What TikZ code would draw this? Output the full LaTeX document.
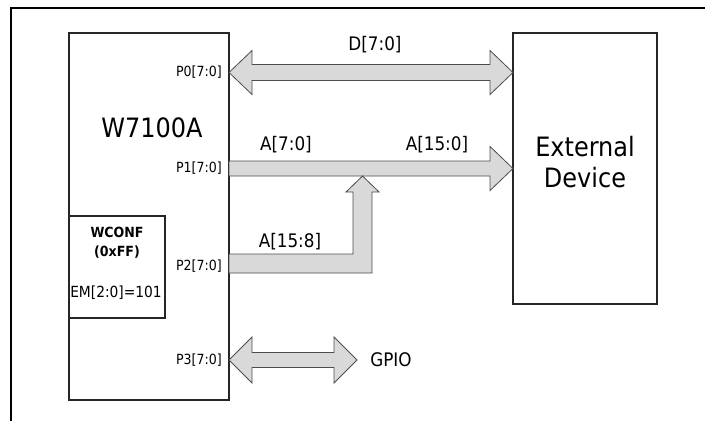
\documentclass[tikz,border=0pt]{standalone}
\usepackage{fontspec}
\setmainfont{DejaVu Sans Condensed}
\usetikzlibrary{positioning,calc}

\tikzset{
  box/.style={draw=black!85, line width=0.9pt, inner sep=0pt},
  bus/.style={draw=black!70, fill=black!15, line width=0.6pt, line join=miter},
  port/.style={anchor=east, inner sep=0pt, font=\fontsize{10.5}{12}\selectfont},
  sig/.style={inner sep=0pt, font=\fontsize{14}{16}\selectfont},
  big/.style={inner sep=0pt, align=center, font=\fontsize{20}{25}\selectfont},
}

% fat bus with a head at both ends: from, to, shaft, head, head length
\newcommand{\dblbus}[5]{%
  \draw[bus] (#1) -- ($(#1)+(#5,-#4)$) -- ($(#1)+(#5,-#3)$)
    -- ($(#2)+(-#5,-#3)$) -- ($(#2)+(-#5,-#4)$) -- (#2)
    -- ($(#2)+(-#5,#4)$) -- ($(#2)+(-#5,#3)$)
    -- ($(#1)+(#5,#3)$) -- ($(#1)+(#5,#4)$) -- cycle;}
% fat bus with one head
\newcommand{\onebus}[5]{%
  \draw[bus] ($(#1)+(0,-#3)$) -- ($(#2)+(-#5,-#3)$) -- ($(#2)+(-#5,-#4)$)
    -- (#2) -- ($(#2)+(-#5,#4)$) -- ($(#2)+(-#5,#3)$)
    -- ($(#1)+(0,#3)$) -- cycle;}

\begin{document}
\begin{tikzpicture}[x=0.75pt, y=-0.75pt]
\useasboundingbox (0,0) rectangle (705,421);

% frame
\draw[line width=1.5pt] (11,421) -- (11,8) -- (705,8);

% blocks
\node[box, minimum width=120pt, minimum height=275.25pt] (chip) at (149,216.5) {};
\node[box, minimum width=108pt, minimum height=203.25pt] (extdev) at (585,168.5) {};
\node[box, minimum width=72pt, minimum height=76.5pt] (wconf) at (117,267) {};

\node[big] (chipname) at (152,128) {W7100A};
\node[big] (extname) at (585,162) {External\\[-2pt]Device};
\node[inner sep=0pt, align=center, font=\fontsize{10.5}{14.5}\selectfont\bfseries]
  (wconfname) at (117,243) {WCONF\\(0xFF)};
\node[inner sep=0pt, font=\fontsize{11.5}{13}\selectfont] (emval) at (116,293) {EM[2:0]=101};

% ports
\coordinate (p0) at (229,72.5);
\coordinate (p1) at (229,168.5);
\coordinate (p2) at (229,263.5);
\coordinate (p3) at (229,360);
\coordinate (d0) at (513,72.5);
\coordinate (a0) at (513,168.5);
\coordinate (gpio) at (357,360);
\coordinate (ahi) at (362.5,176);

\node[port] (p0lbl) at (222,72) {P0[7:0]};
\node[port] (p1lbl) at (222,168) {P1[7:0]};
\node[port] (p2lbl) at (222,266) {P2[7:0]};
\node[port] (p3lbl) at (222,360) {P3[7:0]};

% buses
\dblbus{p0}{d0}{8}{22}{23}
\onebus{p1}{a0}{7.5}{22}{23}
\draw[bus] ($(p2)+(0,-9.5)$) -- ($(ahi)+(-9.5,78)$) -- ($(ahi)+(-9.5,16)$)
  -- ($(ahi)+(-16.5,16)$) -- (ahi) -- ($(ahi)+(16.5,16)$)
  -- ($(ahi)+(9.5,16)$) -- ($(ahi)+(9.5,97)$) -- ($(p2)+(0,9.5)$) -- cycle;
\dblbus{p3}{gpio}{7.5}{23}{23}

\node[sig] (dlbl) at (375,45) {D[7:0]};
\node[sig] (alolbl) at (286,145) {A[7:0]};
\node[sig] (alllbl) at (437,145) {A[15:0]};
\node[sig] (ahilbl) at (290,242) {A[15:8]};
\node[sig, anchor=west] (gpiolbl) at (370,360) {GPIO};
\end{tikzpicture}
\end{document}
